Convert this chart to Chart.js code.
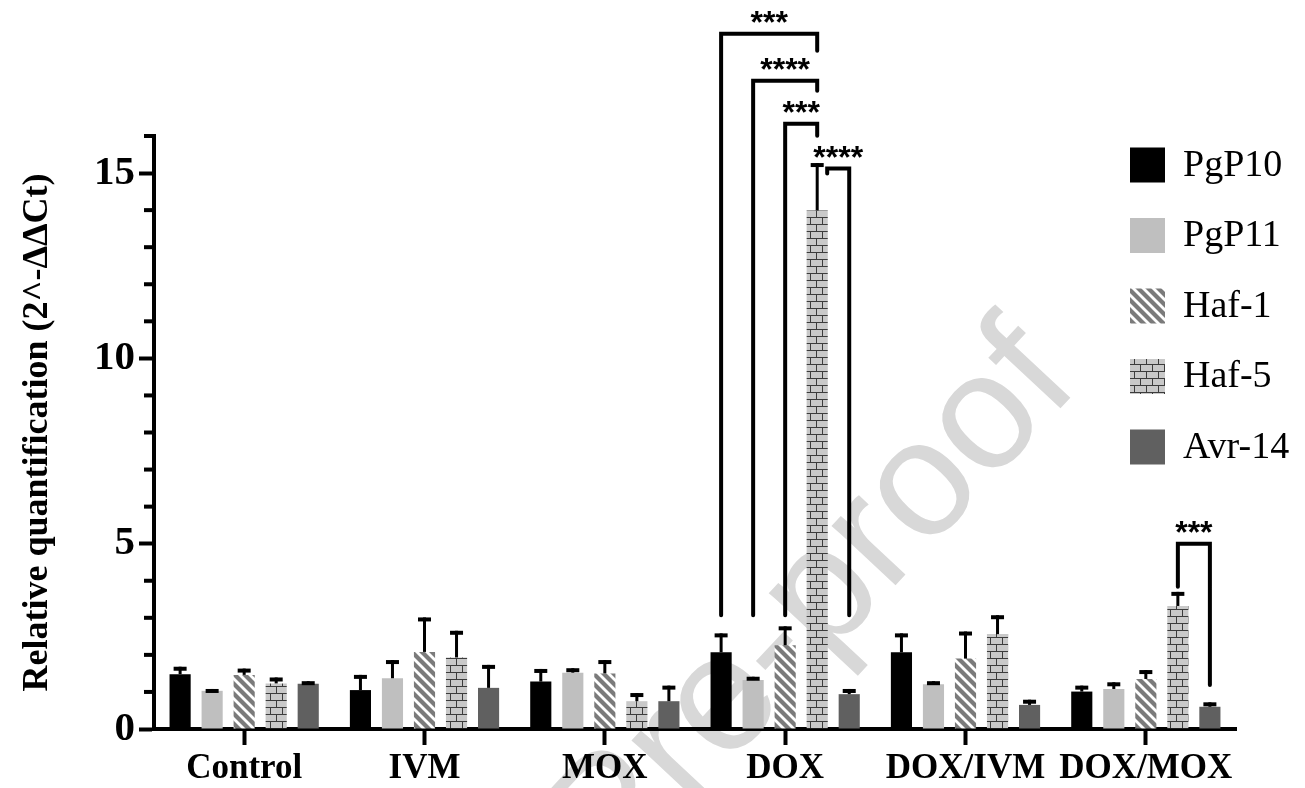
<!DOCTYPE html>
<html><head><meta charset="utf-8">
<script src="https://cdn.jsdelivr.net/npm/chart.js@4.4.1/dist/chart.umd.min.js"></script>
<style>html,body{margin:0;padding:0;background:#fff;}canvas{display:block;}</style>
</head><body>
<canvas id="c" width="1305" height="788"></canvas>
<script>
// ---------- data ----------
const categories = ['Control', 'IVM', 'MOX', 'DOX', 'DOX/IVM', 'DOX/MOX'];
const seriesNames = ['PgP10', 'PgP11', 'Haf-1', 'Haf-5', 'Avr-14'];
const pgp10     = [1.48, 1.05, 1.28, 2.07, 2.07, 1.01];
const pgp10Err  = [0.20, 0.41, 0.34, 0.51, 0.51, 0.16];
const pgp11     = [1.03, 1.37, 1.52, 1.32, 1.21, 1.08];
const pgp11Err  = [0.05, 0.49, 0.12, 0.09, 0.08, 0.18];
const haf1      = [1.46, 2.08, 1.50, 2.26, 1.90, 1.35];
const haf1Err   = [0.17, 0.93, 0.36, 0.51, 0.73, 0.24];
const haf5      = [1.23, 1.93, 0.75, 13.99, 2.56, 3.32];
const haf5Err   = [0.16, 0.72, 0.22, 1.28, 0.51, 0.38];
const avr14     = [1.22, 1.11, 0.75, 0.94, 0.65, 0.60];
const avr14Err  = [0.07, 0.62, 0.42, 0.14, 0.14, 0.12];
const yMajorTicks = [0, 5, 10, 15];
const yMin = 0, yMax = 16;
const yTitle = 'Relative quantification (2^-ΔΔCt)';
// significance brackets
const sigCategory  = [3, 3, 3, 3, 5];
const sigFromSeries = [0, 1, 2, 3, 3];
const sigToSeries   = [3, 3, 3, 4, 4];
const sigLineValue  = [18.76, 17.49, 16.33, 15.12, 5.00];
const sigFromFoot   = [3.07, 3.07, 3.07, 14.99, 3.84];
const sigToFoot     = [18.30, 17.22, 16.01, 3.07, 1.19];
const sigLabels     = ['***', '****', '***', '****', '***'];
const watermarkText = 'Journal Pre-proof';

// ---------- patterns ----------
const canvas = document.getElementById('c');
const mainCtx = canvas.getContext('2d');
function stripePattern() {
  const c = document.createElement('canvas'); c.width = 10; c.height = 10;
  const g = c.getContext('2d');
  g.fillStyle = '#ffffff'; g.fillRect(0, 0, 10, 10);
  g.strokeStyle = '#7b7b7b'; g.lineWidth = 4.2;
  for (const o of [-10, 0, 10]) { g.beginPath(); g.moveTo(o - 5, -5); g.lineTo(o + 15, 15); g.stroke(); }
  return mainCtx.createPattern(c, 'repeat');
}
function brickPattern() {
  const w = 12, h = 7;
  const c = document.createElement('canvas'); c.width = w; c.height = 2 * h;
  const g = c.getContext('2d');
  g.fillStyle = '#c9c9c9'; g.fillRect(0, 0, w, 2 * h);
  g.fillStyle = '#3c3c3c';
  g.fillRect(0, 0, w, 1); g.fillRect(0, h, w, 1);
  g.fillRect(0, 0, 1, h); g.fillRect(w / 2, h, 1, h);
  return mainCtx.createPattern(c, 'repeat');
}
const fills = ['#000000', '#bfbfbf', stripePattern(), brickPattern(), '#606060'];
const values = [pgp10, pgp11, haf1, haf5, avr14];
const errors = [pgp10Err, pgp11Err, haf1Err, haf5Err, avr14Err];

const serif = '"Liberation Serif", "Times New Roman", serif';

// ---------- plugins ----------
const watermarkPlugin = {
  id: 'watermark',
  beforeDraw(chart) {
    const ctx = chart.ctx;
    ctx.save();
    ctx.fillStyle = '#ffffff';
    ctx.fillRect(0, 0, chart.width, chart.height);
    ctx.font = '165px "Liberation Sans", Arial, sans-serif';
    ctx.fillStyle = '#d8d8d8';
    const idx = watermarkText.indexOf('e-proof');
    const off = ctx.measureText(watermarkText.slice(0, idx)).width + ctx.measureText('e').width / 2;
    ctx.translate(725, 705);
    ctx.rotate(-47 * Math.PI / 180);
    ctx.textBaseline = 'alphabetic';
    ctx.fillText(watermarkText, -off, 43);
    ctx.restore();
  }
};

const errorBarPlugin = {
  id: 'errorBars',
  afterDatasetsDraw(chart) {
    const ctx = chart.ctx;
    const y = chart.scales.y;
    ctx.save();
    ctx.fillStyle = '#000';
    chart.data.datasets.forEach((ds, di) => {
      const meta = chart.getDatasetMeta(di);
      meta.data.forEach((bar, i) => {
        const top = y.getPixelForValue(ds.data[i] + ds.errors[i]);
        const x = bar.x;
        ctx.fillRect(x - 1.5, top, 3, bar.y - top);
        ctx.fillRect(x - 6.5, top, 13, 4);
      });
    });
    ctx.restore();
  }
};

const axisExtrasPlugin = {
  id: 'axisExtras',
  afterDraw(chart) {
    const ctx = chart.ctx;
    const y = chart.scales.y;
    const left = chart.chartArea.left;
    ctx.save();
    // minor ticks
    ctx.fillStyle = '#000';
    for (let v = yMin + 1; v <= yMax; v++) {
      if (yMajorTicks.includes(v)) continue;
      const py = y.getPixelForValue(v);
      ctx.fillRect(left - 10, py - 2, 10, 4);
    }
    // significance brackets
    ctx.strokeStyle = '#000';
    ctx.lineWidth = 4;
    ctx.lineCap = 'round';
    ctx.lineJoin = 'miter';
    ctx.textAlign = 'center';
    ctx.textBaseline = 'alphabetic';
    ctx.font = 'bold 32px "Liberation Sans", Arial, sans-serif';
    for (let k = 0; k < sigLabels.length; k++) {
      const b1 = chart.getDatasetMeta(sigFromSeries[k]).data[sigCategory[k]];
      const b2 = chart.getDatasetMeta(sigToSeries[k]).data[sigCategory[k]];
      const x1 = b1.x + (sigFromFoot[k] > sigLineValue[k] - 0.5 ? 10 : 0);
      const x2 = b2.x;
      const yl = y.getPixelForValue(sigLineValue[k]);
      ctx.beginPath();
      ctx.moveTo(x1, y.getPixelForValue(sigFromFoot[k]));
      ctx.lineTo(x1, yl);
      ctx.lineTo(x2, yl);
      ctx.lineTo(x2, y.getPixelForValue(sigToFoot[k]));
      ctx.stroke();
      ctx.fillStyle = '#000';
      ctx.fillText(sigLabels[k], (x1 + x2) / 2, yl - 1);
    }
    // legend
    ctx.font = '38px ' + serif;
    ctx.textAlign = 'left';
    ctx.textBaseline = 'middle';
    chart.data.datasets.forEach((ds, di) => {
      const cy = 165 + di * 70.5;
      ctx.fillStyle = ds.backgroundColor;
      ctx.fillRect(1130, cy - 17.5, 35, 35);
      ctx.fillStyle = '#000';
      ctx.fillText(ds.label, 1183, cy + 1);
    });
    ctx.restore();
  }
};

new Chart(canvas, {
  type: 'bar',
  data: {
    labels: categories,
    datasets: seriesNames.map((name, i) => ({
      label: name,
      data: values[i],
      errors: errors[i],
      backgroundColor: fills[i],
      borderWidth: 0,
      categoryPercentage: 0.888,
      barPercentage: 0.66
    }))
  },
  options: {
    responsive: false,
    animation: false,
    events: [],
    layout: { padding: { top: 136, right: 69, bottom: 0, left: 0 }, autoPadding: false },
    plugins: { legend: { display: false }, tooltip: { enabled: false } },
    scales: {
      x: {
        afterFit(s) { s.height = 59; },
        border: { display: true, color: '#000', width: 4 },
        grid: { display: true, offset: false, drawOnChartArea: false, drawTicks: true, tickLength: 16, tickWidth: 4, tickColor: '#000' },
        ticks: { padding: 3, color: '#000', maxRotation: 0, autoSkip: false, font: { family: serif, size: 35, weight: 'bold' } }
      },
      y: {
        min: yMin, max: yMax,
        afterFit(s) { s.width = 154; },
        border: { display: true, color: '#000', width: 4 },
        grid: {
          display: true, drawOnChartArea: false, drawTicks: true, tickLength: 15, tickWidth: 4,
          tickColor: (c) => (c.tick && yMajorTicks.includes(c.tick.value)) ? '#000' : 'rgba(0,0,0,0)'
        },
        ticks: {
          stepSize: 1, autoSkip: false, padding: 4, color: '#000',
          font: { family: serif, size: 41, weight: 'bold' },
          callback: (v) => yMajorTicks.includes(v) ? String(v) : ''
        },
        title: { display: true, text: yTitle, color: '#000', padding: { top: 16, bottom: 0 }, font: { family: serif, size: 36, weight: 'bold' } }
      }
    }
  },
  plugins: [watermarkPlugin, errorBarPlugin, axisExtrasPlugin]
});
</script>
</body></html>
